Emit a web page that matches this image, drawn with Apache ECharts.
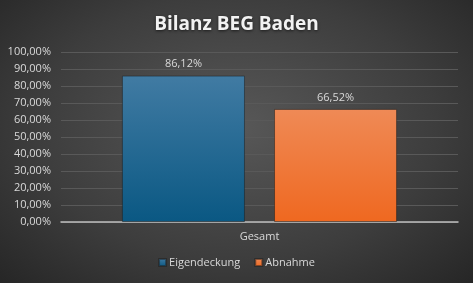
<!DOCTYPE html>
<html><head><meta charset="utf-8">
<script src="https://cdn.jsdelivr.net/npm/echarts@6/dist/echarts.min.js"></script>
<style>html,body{margin:0;padding:0;}#c{width:473px;height:283px;background:radial-gradient(ellipse at 50% 45%, #585858 0%, #3d3d3d 60%, #262626 100%);}</style>
</head><body><div id="c"></div>
<script>
const categories = ['Gesamt'];
const seriesNames = ['Eigendeckung', 'Abnahme'];
const eigendeckung = [86.12];
const abnahme = [66.52];
const yTicks = {min: 0, max: 100, interval: 10};

const chart = echarts.init(document.getElementById('c'), null, {renderer: 'canvas'});
const fmt = v => v.toFixed(2).replace('.', ',') + '%';
const grad = (a, b) => new echarts.graphic.LinearGradient(0, 0, 0, 1, [{offset: 0, color: a}, {offset: 1, color: b}]);
chart.setOption({
  backgroundColor: 'transparent',
  title: {text: 'Bilanz BEG Baden', left: 'center', top: 10,
    textStyle: {color: '#f2f2f2', fontSize: 19, fontWeight: 'bold', fontFamily: 'Open Sans', textShadowColor: 'rgba(0,0,0,0.6)', textShadowBlur: 3, textShadowOffsetY: 1}},
  grid: {left: 61, right: 15, top: 52, bottom: 61, containLabel: false},
  legend: {bottom: 10, left: 'center', itemWidth: 7, itemHeight: 7, itemGap: 14, icon: 'rect',
    textStyle: {color: '#d9d9d9', fontSize: 11, fontFamily: 'Open Sans', padding: [0, 0, 0, -2]},
    data: seriesNames},
  xAxis: {type: 'category', data: categories,
    axisLine: {lineStyle: {color: '#bfbfbf', width: 1.5}}, axisTick: {show: false},
    axisLabel: {color: '#d9d9d9', fontSize: 11, fontFamily: 'Open Sans', margin: 9}},
  yAxis: {type: 'value', min: yTicks.min, max: yTicks.max, interval: yTicks.interval,
    axisLabel: {color: '#d9d9d9', fontSize: 11, fontFamily: 'Open Sans', margin: 10, formatter: v => v.toFixed(2).replace('.', ',') + '%'},
    splitLine: {lineStyle: {color: '#595959', width: 1}}, axisLine: {show: false}, axisTick: {show: false}},
  series: [
    {name: seriesNames[0], type: 'bar', data: eigendeckung, barGap: '23.6%', barCategoryGap: '30.7%',
      itemStyle: {color: grad('#417ba3', '#0a5883'), borderColor: 'rgba(30,30,30,0.5)', borderWidth: 1},
      label: {show: true, position: 'top', distance: 6, color: '#d9d9d9', fontSize: 11, fontFamily: 'Open Sans', formatter: p => fmt(p.value)}},
    {name: seriesNames[1], type: 'bar', data: abnahme,
      itemStyle: {color: grad('#ef8a56', '#ef6820'), borderColor: 'rgba(30,30,30,0.5)', borderWidth: 1},
      label: {show: true, position: 'top', distance: 6, color: '#d9d9d9', fontSize: 11, fontFamily: 'Open Sans', formatter: p => fmt(p.value)}}
  ]
});
</script></body></html>
